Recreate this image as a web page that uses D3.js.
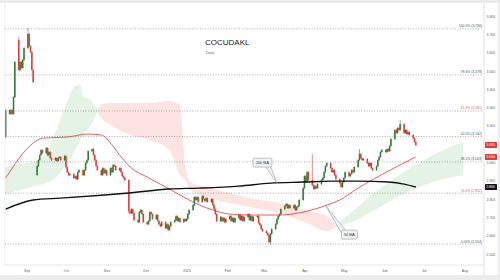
<!DOCTYPE html>
<html lang="en">
<head>
  <meta charset="utf-8">
  <title>COCUDAKL</title>
  <script src="https://d3js.org/d3.v7.min.js"></script>
  <style>
    body { margin: 0; background: #ececec; }
    svg { display: block; font-family: "Liberation Sans", Arial, sans-serif; }
  </style>
</head>
<body>
  <script>
    // ---- data ----
    var title = "COCUDAKL";
    var subtitle = "Daily";

    // daily closes, one per weekday starting 2024-08-16
    var closes = [
      3.286,                                                              // Aug 16
      3.265, 3.286, 3.265, 3.357, 3.549, 3.505, 3.549, 3.516, 3.560, 3.625, // Aug
      3.702, 3.636, 3.603, 3.505, 3.439, 2.980, 3.013, 3.040, 3.068, 3.051, // Sep
      3.079, 3.040, 3.057, 3.024, 3.013, 3.024, 3.008, 3.024, 3.030, 3.013, 3.035,
      2.975, 2.947, 2.931, 2.937, 2.915, 2.925, 2.909, 2.947, 2.958, 2.931, // Oct
      2.958, 2.997, 3.013, 3.062, 3.073, 3.040, 3.013, 2.980, 2.958, 2.931,
      2.969, 2.942, 2.958,
      2.931, 2.969, 2.947, 2.986, 2.980, 2.958, 2.969, 2.947, 2.925, 2.915, // Nov
      2.904, 2.734, 2.723, 2.745, 2.723, 2.685, 2.674, 2.729, 2.740, 2.718, 2.674,
      2.663, 2.680, 2.729, 2.718, 2.691, 2.713, 2.680, 2.663, 2.652, 2.674, // Dec
      2.641, 2.663, 2.631, 2.652, 2.674, 2.685, 2.707, 2.680, 2.696, 2.674,
      2.691, 2.680,
      2.691, 2.718, 2.740, 2.767, 2.811, 2.795, 2.811, 2.784, 2.816, 2.800, // Jan
      2.789, 2.805, 2.784, 2.800, 2.767, 2.745, 2.718, 2.680, 2.702, 2.680,
      2.696, 2.674, 2.691,
      2.707, 2.680, 2.696, 2.674, 2.696, 2.713, 2.685, 2.707, 2.680, 2.702, // Feb
      2.718, 2.685, 2.707, 2.680, 2.702, 2.707, 2.669, 2.658, 2.636, 2.625,
      2.614, 2.603, 2.565, 2.609, 2.636, 2.663, 2.691, 2.707, 2.718, 2.745, // Mar
      2.762, 2.773, 2.751, 2.767, 2.751, 2.767, 2.740, 2.756, 2.762, 2.795, 2.860,
      2.925, 2.893, 2.947, 2.904, 2.876, 2.855, 2.871, 2.860, 2.882, 2.904, // Apr
      2.915, 2.947, 2.980, 2.997, 2.969, 2.947, 2.958, 2.931, 2.909, 2.887,
      2.866, 2.893,
      2.915, 2.947, 2.925, 2.937, 2.958, 2.947, 2.975, 3.013, 3.046, 3.024, // May
      3.013, 3.019, 2.997, 2.980, 2.997, 2.969, 2.958, 2.980, 3.013, 3.030,
      3.057, 3.068,
      3.057, 3.073, 3.062, 3.090, 3.128, 3.177, 3.161, 3.188, 3.177, 3.210, // Jun
      3.161, 3.177, 3.155, 3.166, 3.150, 3.133, 3.112, 3.095
    ];
    // opens that do not follow the previous close
    var gapOpens = [["2024-08-16", 3.139], ["2024-08-26", 3.669], ["2024-09-09", 2.931]];
    var wickHighs = [["2024-08-26", 3.680], ["2024-09-02", 3.730], ["2025-04-07", 3.040],
                     ["2025-05-13", 3.068], ["2025-06-13", 3.226]];
    var wickLows = [["2024-11-18", 2.725], ["2025-03-06", 2.554]];

    var ma50 = [
      ["2024-08-16", 2.915], ["2024-08-20", 2.958], ["2024-08-27", 3.030], ["2024-09-06", 3.106],
      ["2024-09-13", 3.133], ["2024-10-02", 3.139], ["2024-10-18", 3.155], ["2024-10-28", 3.150],
      ["2024-11-04", 3.106], ["2024-11-11", 3.040], ["2024-11-19", 2.975], ["2024-12-02", 2.920],
      ["2024-12-19", 2.855], ["2025-01-03", 2.795], ["2025-01-21", 2.740], ["2025-02-03", 2.718],
      ["2025-02-21", 2.713], ["2025-03-13", 2.713], ["2025-03-31", 2.729], ["2025-04-18", 2.767],
      ["2025-04-28", 2.795], ["2025-05-12", 2.860], ["2025-06-04", 2.953], ["2025-06-25", 3.030]
    ];
    var ma200 = [
      ["2024-08-16", 2.745], ["2024-09-06", 2.795], ["2024-09-27", 2.805], ["2024-10-28", 2.821],
      ["2024-11-18", 2.833], ["2024-12-19", 2.855], ["2025-01-10", 2.860], ["2025-02-10", 2.871],
      ["2025-03-06", 2.887], ["2025-03-31", 2.893], ["2025-04-21", 2.898], ["2025-05-12", 2.898],
      ["2025-06-04", 2.893], ["2025-06-16", 2.882], ["2025-06-25", 2.866]
    ];

    // cloud bands: [date, upper, lower]
    var cloudGreenA = [
      ["2024-08-15", 2.975, 2.822], ["2024-08-27", 2.991, 2.849], ["2024-09-08", 3.008, 2.871],
      ["2024-09-15", 3.040, 2.887], ["2024-09-21", 3.133, 2.904], ["2024-10-01", 3.314, 2.986],
      ["2024-10-08", 3.417, 3.068], ["2024-10-12", 3.423, 3.122], ["2024-10-14", 3.363, 3.150],
      ["2024-10-20", 3.341, 3.204], ["2024-10-25", 3.286, 3.275]
    ];
    var cloudRed = [
      ["2024-10-25", 3.286, 3.275], ["2024-10-28", 3.319, 3.243], ["2024-11-04", 3.325, 3.204],
      ["2024-11-19", 3.325, 3.150], ["2024-12-04", 3.325, 3.122], ["2024-12-19", 3.336, 3.068],
      ["2024-12-27", 3.314, 2.931], ["2024-12-31", 2.986, 2.904], ["2025-01-04", 2.893, 2.849],
      ["2025-01-19", 2.860, 2.805], ["2025-02-03", 2.833, 2.778], ["2025-02-19", 2.805, 2.756],
      ["2025-03-13", 2.778, 2.723], ["2025-04-05", 2.734, 2.663], ["2025-04-18", 2.707, 2.625],
      ["2025-04-25", 2.658, 2.647]
    ];
    var cloudGreenB = [
      ["2025-04-25", 2.658, 2.647], ["2025-05-07", 2.729, 2.674], ["2025-05-22", 2.822, 2.729],
      ["2025-06-07", 2.904, 2.795], ["2025-06-22", 2.975, 2.849], ["2025-07-08", 3.040, 2.893],
      ["2025-07-23", 3.090, 2.920], ["2025-07-31", 3.111, 2.931]
    ];

    var fibNames = ["0.00%", "23.6%", "38.2%", "50.0%", "61.8%", "78.6%", "100.0%"];
    var fibPrices = [2.554, 2.832, 3.003, 3.142, 3.281, 3.478, 3.730];

    var yTicks = [2.5, 2.6, 2.7, 2.8, 2.9, 3.0, 3.1, 3.2, 3.3, 3.4, 3.5, 3.6, 3.7, 3.8];
    var xTicks = ["2024-09-01", "2024-10-01", "2024-11-01", "2024-12-01", "2025-01-01", "2025-02-01",
                  "2025-03-01", "2025-04-01", "2025-05-01", "2025-06-01", "2025-07-01", "2025-08-01"];

    var priceTags = [["close", 3.095], ["ma50", 3.030], ["ma200", 2.866]];
    var callouts = [["200 MA", "2025-03-11", 2.887], ["50 MA", "2025-04-17", 2.767]];

    // ---- chart ----
    var w = 500, h = 280;
    var padL = 5, padR = 484, padT = 3, padB = 265;
    var up = "#2e7d32", down = "#e53935";

    var parse = d3.utcParse("%Y-%m-%d");
    var fmt = d3.utcFormat("%Y-%m-%d");

    var svg = d3.select("body").append("svg")
      .attr("width", w)
      .attr("height", h);

    svg.append("rect")
      .attr("x", 0).attr("y", 3)
      .attr("width", 498).attr("height", 272)
      .attr("fill", "#ffffff");

    var x = d3.scaleUtc()
      .domain([new Date(Date.UTC(2024, 7, 15, 12)), new Date(Date.UTC(2025, 7, 16))])
      .range([padL, padR]);
    var y = d3.scaleLinear()
      .domain([2.5, 3.8])
      .range([254, 16]);

    svg.append("clipPath").attr("id", "plot")
      .append("rect")
      .attr("x", padL).attr("y", padT)
      .attr("width", padR - padL).attr("height", padB - padT);

    var plot = svg.append("g").attr("clip-path", "url(#plot)");

    // ichimoku-like cloud
    var band = d3.area()
      .x(function(d) { return x(parse(d[0])); })
      .y0(function(d) { return y(d[2]); })
      .y1(function(d) { return y(d[1]); })
      .curve(d3.curveMonotoneX);

    [[cloudGreenA, "#4caf50"], [cloudRed, "#f44336"], [cloudGreenB, "#4caf50"]].forEach(function(c) {
      plot.append("path")
        .attr("d", band(c[0]))
        .attr("fill", c[1])
        .attr("fill-opacity", 0.15);
    });

    // fibonacci levels
    fibPrices.forEach(function(p, i) {
      plot.append("line")
        .attr("x1", padL).attr("x2", padR - 2)
        .attr("y1", y(p)).attr("y2", y(p))
        .attr("stroke", "#8a8a8a")
        .attr("stroke-width", 0.7)
        .attr("stroke-dasharray", "1,1.6");
      svg.append("text")
        .attr("x", padR - 2)
        .attr("y", y(p) - 1.6)
        .attr("text-anchor", "end")
        .attr("font-size", 3.4)
        .attr("fill", (fibNames[i] === "61.8%" || fibNames[i] === "23.6%") ? "#e06666" : "#555")
        .text(fibNames[i] + " (" + p.toFixed(3) + ")");
    });

    // candles
    var days = [];
    var day = parse("2024-08-16");
    while (days.length < closes.length) {
      var wd = day.getUTCDay();
      if (wd !== 0 && wd !== 6) days.push(day);
      day = d3.utcDay.offset(day, 1);
    }
    var opens = new Map(gapOpens), highs = new Map(wickHighs), lows = new Map(wickLows);
    var candles = days.map(function(d, i) {
      var key = fmt(d);
      var o = opens.has(key) ? opens.get(key) : closes[i - 1];
      var c = closes[i];
      return {
        date: d, open: o, close: c,
        high: highs.has(key) ? highs.get(key) : Math.max(o, c),
        low: lows.has(key) ? lows.get(key) : Math.min(o, c)
      };
    });

    var cg = plot.append("g");
    cg.selectAll("line")
      .data(candles)
      .enter()
      .append("line")
      .attr("x1", function(d) { return x(d.date); })
      .attr("x2", function(d) { return x(d.date); })
      .attr("y1", function(d) { return y(d.high) - 0.9; })
      .attr("y2", function(d) { return y(d.low) + 0.9; })
      .attr("stroke", function(d) { return d.close >= d.open ? up : down; })
      .attr("stroke-width", 0.6);
    cg.selectAll("rect")
      .data(candles)
      .enter()
      .append("rect")
      .attr("x", function(d) { return x(d.date) - 0.75; })
      .attr("width", 1.5)
      .attr("y", function(d) { return y(Math.max(d.open, d.close)); })
      .attr("height", function(d) { return Math.max(0.9, Math.abs(y(d.open) - y(d.close))); })
      .attr("fill", function(d) { return d.close >= d.open ? up : down; });

    // moving averages
    var maLine = d3.line()
      .x(function(d) { return x(parse(d[0])); })
      .y(function(d) { return y(d[1]); })
      .curve(d3.curveMonotoneX);

    plot.append("path")
      .attr("d", maLine(ma50))
      .attr("fill", "none")
      .attr("stroke", "#d83b3b")
      .attr("stroke-width", 0.8);
    plot.append("path")
      .attr("d", maLine(ma200))
      .attr("fill", "none")
      .attr("stroke", "#111")
      .attr("stroke-width", 1.4);

    // frame and axes
    svg.append("line")
      .attr("x1", padL).attr("x2", padL).attr("y1", padT).attr("y2", padB)
      .attr("stroke", "#e2e2e2").attr("stroke-width", 0.6);
    svg.append("line")
      .attr("x1", padR).attr("x2", padR).attr("y1", padT).attr("y2", 275)
      .attr("stroke", "#cfcfcf").attr("stroke-width", 0.6);
    svg.append("line")
      .attr("x1", padL).attr("x2", padR).attr("y1", padB).attr("y2", padB)
      .attr("stroke", "#d6d6d6").attr("stroke-width", 0.6);

    var yAxis = svg.append("g")
      .attr("transform", "translate(" + padR + ",0)")
      .call(d3.axisRight(y).tickValues(yTicks).tickSize(0).tickPadding(2.5).tickFormat(d3.format(".3f")));
    yAxis.select(".domain").remove();
    yAxis.selectAll("text").attr("font-size", 3.5).attr("fill", "#666");

    var xAxis = svg.append("g")
      .attr("transform", "translate(0," + padB + ")")
      .call(d3.axisBottom(x)
        .tickValues(xTicks.map(parse))
        .tickSize(0)
        .tickPadding(4)
        .tickFormat(function(d) { return d.getUTCMonth() === 0 ? d3.utcFormat("%Y")(d) : d3.utcFormat("%b")(d); }));
    xAxis.select(".domain").remove();
    xAxis.selectAll("text").attr("font-size", 3.6).attr("fill", "#666");

    // price tags on the axis
    var tagColor = { close: "#e53935", ma50: "#e53935", ma200: "#111" };
    priceTags.forEach(function(t) {
      svg.append("rect")
        .attr("x", padR + 1).attr("y", y(t[1]) - 3)
        .attr("width", 12).attr("height", 6)
        .attr("rx", 0.6)
        .attr("fill", tagColor[t[0]]);
      svg.append("text")
        .attr("x", padR + 2.2).attr("y", y(t[1]) + 1.2)
        .attr("font-size", 3.5)
        .attr("fill", "#fff")
        .text(t[1].toFixed(3));
    });

    // callouts for the moving averages
    var boxLayout = {
      "200 MA": { dx: -24, dy: -25, w: 19, h: 9, tail: [[13, 9], [18, 9]] },
      "50 MA": { dx: 16, dy: 25, w: 16, h: 9, tail: [[0, 3], [4, 0]] }
    };
    callouts.forEach(function(c) {
      var ax = x(parse(c[1])), ay = y(c[2]);
      var b = boxLayout[c[0]];
      var bx = ax + b.dx, by = ay + b.dy;
      svg.append("path")
        .attr("d", "M" + (bx + b.tail[0][0]) + "," + (by + b.tail[0][1]) +
                   "L" + ax + "," + ay +
                   "L" + (bx + b.tail[1][0]) + "," + (by + b.tail[1][1]))
        .attr("fill", "#f1f1f1")
        .attr("stroke", "#8d8d8d")
        .attr("stroke-width", 0.5);
      svg.append("rect")
        .attr("x", bx).attr("y", by)
        .attr("width", b.w).attr("height", b.h)
        .attr("rx", 1.6)
        .attr("fill", "#f1f1f1")
        .attr("stroke", "#8d8d8d")
        .attr("stroke-width", 0.5);
      svg.append("text")
        .attr("x", bx + b.w / 2).attr("y", by + b.h / 2 + 1.3)
        .attr("text-anchor", "middle")
        .attr("font-size", 3.8)
        .attr("fill", "#333")
        .text(c[0]);
    });

    // title
    svg.append("text")
      .attr("x", 205).attr("y", 45)
      .attr("font-size", 8)
      .attr("fill", "#222")
      .text(title);
    svg.append("text")
      .attr("x", 206).attr("y", 54)
      .attr("font-size", 3.6)
      .attr("fill", "#666")
      .text(subtitle);
  </script>
</body>
</html>
